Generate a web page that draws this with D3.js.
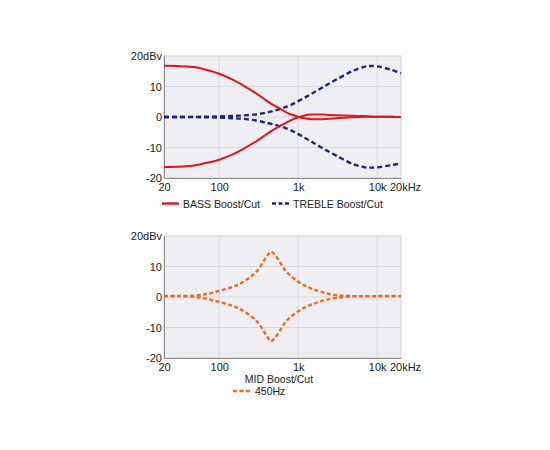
<!DOCTYPE html>
<html>
<head>
<meta charset="utf-8">
<script src="https://cdn.jsdelivr.net/npm/d3@7"></script>
<style>
  body { margin: 0; background: #fff; }
  text { font-family: "Liberation Sans", Arial, sans-serif; fill: #222; }
</style>
</head>
<body>
<div id="chart"></div>
<script>
// frequency points (Hz) for the tone controls
var toneFreqs = [20, 30, 50, 70, 100, 150, 200, 300, 400, 500, 600, 700, 800, 1000, 1200, 1500, 2000, 3000, 5000, 7000, 8000, 10000, 15000, 20000];
var bassBoost = [16.8, 16.7, 16.3, 15.4, 14.2, 12.2, 10.4, 7.6, 5.3, 3.7, 2.6, 1.6, 0.9, 0.1, -0.4, -0.7, -0.7, -0.4, -0.1, 0.1, 0.1, 0.1, 0.05, 0];
var bassCut = [-16.4, -16.3, -15.8, -15.0, -14.0, -12.2, -10.5, -7.8, -5.6, -4.0, -2.8, -1.9, -1.1, -0.1, 0.5, 0.8, 0.8, 0.6, 0.4, 0.3, 0.2, 0.1, 0.05, 0];
var trebleBoost = [0, 0, 0.05, 0.1, 0.2, 0.35, 0.5, 0.9, 1.5, 2.1, 2.7, 3.3, 3.9, 5.2, 6.3, 7.7, 9.6, 12.2, 15.2, 16.5, 16.7, 16.6, 15.5, 14.3];
var trebleCut = [0, 0, -0.05, -0.1, -0.2, -0.4, -0.6, -1.2, -1.9, -2.5, -3.1, -3.7, -4.3, -5.6, -6.8, -8.2, -10.1, -12.6, -15.5, -16.5, -16.6, -16.5, -15.8, -15.2];

// mid (450Hz) control
var midFreqs = [20, 30, 50, 70, 100, 150, 200, 300, 400, 450, 500, 600, 700, 800, 1000, 1200, 1500, 2000, 3000, 5000, 10000, 20000];
var midBoost = [0.3, 0.3, 0.5, 1.0, 2.0, 3.4, 4.9, 8.5, 13.3, 14.8, 14.0, 11.0, 8.4, 7.0, 5.0, 3.8, 2.7, 1.6, 0.6, 0.3, 0.3, 0.3];
var midCut = [0.3, 0.3, 0.0, -0.6, -1.6, -3.0, -4.5, -8.0, -12.8, -14.5, -13.6, -10.6, -8.0, -6.6, -4.7, -3.5, -2.4, -1.3, -0.3, 0.2, 0.3, 0.3];

var xTicks = [20, 100, 1000, 10000, 20000];
var xTickLabels = ["20", "100", "1k", "10k", "20kHz"];
var yTicks = [-20, -10, 0, 10, 20];
var yTickLabels = ["-20", "-10", "0", "10", "20dBv"];

var svg = d3.select("#chart").append("svg")
    .attr("width", 550)
    .attr("height", 450);

var x = d3.scaleLog().domain([20, 20000]).range([164, 401]);

function drawPanel(top, bottom, curves) {
    var y = d3.scaleLinear().domain([-20, 20]).range([bottom, top]);
    var g = svg.append("g");

    g.append("rect")
        .attr("x", x(20)).attr("y", y(20))
        .attr("width", x(20000) - x(20)).attr("height", y(-20) - y(20))
        .attr("fill", "#efeef3")
        .attr("stroke", "#cfcfd2");

    // grid
    g.selectAll(".vg").data([100, 1000, 10000]).enter().append("line")
        .attr("x1", function(d) { return x(d); }).attr("x2", function(d) { return x(d); })
        .attr("y1", y(20)).attr("y2", y(-20))
        .attr("stroke", "#d9d9dd").attr("stroke-width", 1);
    g.selectAll(".hg").data([-10, 0, 10]).enter().append("line")
        .attr("x1", x(20)).attr("x2", x(20000))
        .attr("y1", function(d) { return y(d); }).attr("y2", function(d) { return y(d); })
        .attr("stroke", "#d9d9dd").attr("stroke-width", 1);

    // axes
    var xa = g.append("g")
        .attr("transform", "translate(0," + y(-20) + ")")
        .call(d3.axisBottom(x).tickValues(xTicks).tickSize(0).tickPadding(5)
            .tickFormat(function(d, i) { return xTickLabels[i]; }));
    xa.select(".domain").attr("stroke", "#8a8a8a");
    xa.selectAll("text").style("font-size", "11px").attr("fill", "#222")
        .attr("dx", function(d) { return d === 20000 ? 4 : 0; });

    var ya = g.append("g")
        .attr("transform", "translate(" + x(20) + ",0)")
        .call(d3.axisLeft(y).tickValues(yTicks).tickSize(0).tickPadding(2)
            .tickFormat(function(d, i) { return yTickLabels[i]; }));
    ya.select(".domain").attr("stroke", "#8a8a8a");
    ya.selectAll("text").style("font-size", "11px").attr("fill", "#222");

    var line = d3.line()
        .x(function(d) { return x(d[0]); })
        .y(function(d) { return y(d[1]); })
        .curve(d3.curveCatmullRom.alpha(0.5));

    curves.forEach(function(c) {
        g.append("path")
            .datum(d3.zip(c.freqs, c.values))
            .attr("fill", "none")
            .attr("stroke", c.color)
            .attr("stroke-width", c.width)
            .attr("stroke-dasharray", c.dash)
            .attr("d", line);
    });
}

var red = "#e3141c", navy = "#1d2585", orange = "#f26b1d";

drawPanel(56, 178, [
    { freqs: toneFreqs, values: trebleBoost, color: navy, width: 2.4, dash: "5,3" },
    { freqs: toneFreqs, values: trebleCut, color: navy, width: 2.4, dash: "5,3" },
    { freqs: toneFreqs, values: bassBoost, color: red, width: 2, dash: null },
    { freqs: toneFreqs, values: bassCut, color: red, width: 2, dash: null }
]);

drawPanel(236, 358, [
    { freqs: midFreqs, values: midBoost, color: orange, width: 2.4, dash: "4,2.5" },
    { freqs: midFreqs, values: midCut, color: orange, width: 2.4, dash: "4,2.5" }
]);

// legends
var leg = svg.append("g");
leg.append("line").attr("x1", 162).attr("x2", 179).attr("y1", 203.5).attr("y2", 203.5)
    .attr("stroke", red).attr("stroke-width", 2.4);
leg.append("text").attr("x", 183).attr("y", 207.5).style("font-size", "10.5px").text("BASS Boost/Cut");
leg.append("line").attr("x1", 272).attr("x2", 289).attr("y1", 203.5).attr("y2", 203.5)
    .attr("stroke", navy).attr("stroke-width", 2.4).attr("stroke-dasharray", "4,2.5");
leg.append("text").attr("x", 293).attr("y", 207.5).style("font-size", "10.5px").text("TREBLE Boost/Cut");

leg.append("text").attr("x", 279).attr("y", 383).attr("text-anchor", "middle")
    .style("font-size", "10.5px").text("MID Boost/Cut");
leg.append("line").attr("x1", 233).attr("x2", 251).attr("y1", 391).attr("y2", 391)
    .attr("stroke", orange).attr("stroke-width", 2.4).attr("stroke-dasharray", "4,2.5");
leg.append("text").attr("x", 255).attr("y", 395).style("font-size", "10.5px").text("450Hz");
</script>
</body>
</html>
